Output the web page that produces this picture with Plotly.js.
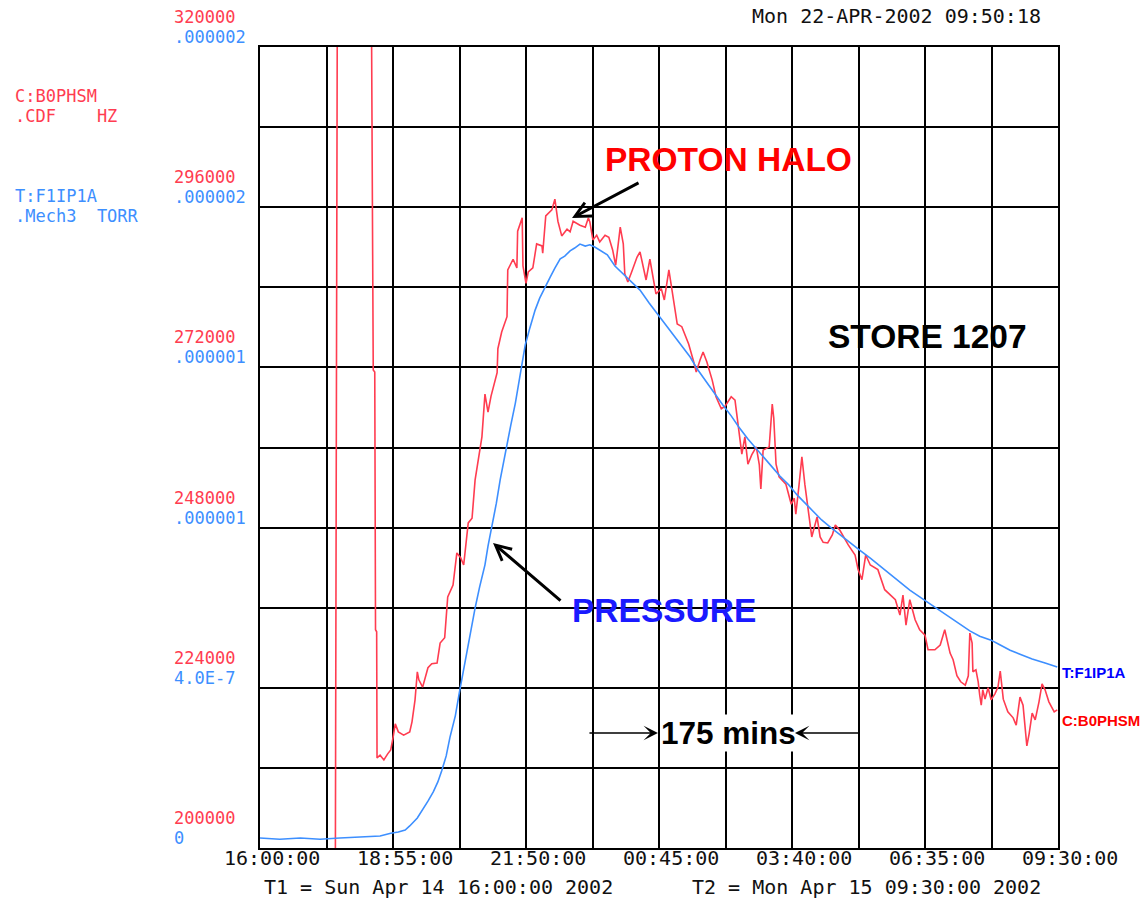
<!DOCTYPE html>
<html>
<head>
<meta charset="utf-8">
<script src="https://cdn.plot.ly/plotly-3.0.1.min.js"></script>
<style>
  html, body { margin: 0; padding: 0; background: #ffffff; }
  #chart { width: 1143px; height: 903px; }
</style>
</head>
<body>
<div id="chart"></div>
<script>
// ---- Data (time in minutes after T1 = Sun Apr 14 16:00:00 2002) ----
const redTime = [99,100,102,146,147,149,151,152,153.5,154,158,163,168,172,175,178,182,189,197,200,204,207,209,214,221,226,233,237,243,247,254,259,264,268,274,279,283,287,292,296,300,304,312,313,318,325,326,333,338,339,345,346,350,353,359,364,371,372,376,384,388,392,397,404,408,412,421,428,432,434,438,443,447,454,459,464,468,474,478,480,484,489,496,500,504,508,513,517,521,528,532,538,542,549,555,561,564,570,574,579,583,588,595,600,607,612,620,625,629,634,638,642,647,653,657,659,662,670,674,676,679,683,692,699,703,705,709,713,717,722,726,733,737,741,747,753,757,763,774,783,787,792,797,803,813,822,829,836,842,846,850,855,862,868,875,879,888,895,901,908,912,917,922,928,932,934,937,938,942,945,947,949,951,954,958,962,967,971,974,978,984,991,995,1000,1004,1009,1012,1016,1020,1022,1025,1029,1033,1038,1045,1049];
const redHz = [190000,257700,340000,340000,310000,271600,271300,232700,232400,213500,213900,213200,214100,214700,216500,218600,217400,216900,217400,218900,222200,226400,225200,224100,227000,227600,227700,230700,231500,237600,239400,244200,243500,242400,248700,249400,255100,257700,261600,268000,265300,267700,271200,274800,277300,279600,286600,288200,286900,292400,294400,287200,284600,286300,286900,290500,290200,289100,294700,295600,297200,293900,291700,292700,292300,293900,293300,293000,294400,293800,291100,291800,290800,291800,291500,289600,287300,293000,290500,286000,284800,286300,288500,289300,287000,285100,288200,285500,283000,283800,282100,286600,283600,278500,278100,276300,275500,273100,271300,273100,274300,272800,270100,267600,265800,266200,267600,267100,263500,259000,261600,257500,258900,260100,257400,253800,259600,260100,266500,264400,257500,255600,254500,251500,252400,250000,254100,258600,254400,250000,246600,249600,246600,245800,245700,246900,248400,247600,245400,243900,241700,240200,243900,242400,241700,238700,237900,237200,234900,237900,233400,237200,234200,232700,231900,229700,229700,230400,232700,229200,228200,225800,224900,224400,225800,232200,230700,226400,226700,224900,222900,221400,223700,222300,224000,222200,223100,224100,226500,222300,220400,219500,218400,222600,221400,215300,217100,220200,219200,220200,221900,224600,223700,221900,220400,220700];

const blueTime = [0,26,53,79,105,132,158,172,182,191,197,207,214,221,228,234,239,245,250,257,262,267,272,278,283,289,296,300,305,311,316,320,325,330,336,342,349,355,362,368,375,382,388,395,401,408,414,421,428,434,441,447,457,467,478,488,500,512,524,534,543,555,566,576,587,599,609,620,630,642,653,663,674,684,696,707,718,729,739,750,763,776,789,803,816,829,842,855,868,882,895,908,921,934,947,962,974,987,1000,1016,1033,1049];
const blueTorr = [2.5e-8,2.2e-8,2.5e-8,2.2e-8,2.5e-8,2.7e-8,3.0e-8,3.7e-8,4.0e-8,4.5e-8,5.5e-8,7.5e-8,9.5e-8,1.17e-7,1.40e-7,1.65e-7,1.92e-7,2.30e-7,2.77e-7,3.30e-7,3.85e-7,4.37e-7,4.92e-7,5.44e-7,5.99e-7,6.52e-7,7.07e-7,7.54e-7,8.02e-7,8.61e-7,9.19e-7,9.61e-7,1.004e-6,1.056e-6,1.111e-6,1.181e-6,1.256e-6,1.298e-6,1.343e-6,1.373e-6,1.401e-6,1.426e-6,1.448e-6,1.471e-6,1.478e-6,1.491e-6,1.498e-6,1.508e-6,1.503e-6,1.506e-6,1.500e-6,1.493e-6,1.481e-6,1.453e-6,1.433e-6,1.413e-6,1.393e-6,1.361e-6,1.331e-6,1.303e-6,1.283e-6,1.251e-6,1.226e-6,1.194e-6,1.164e-6,1.134e-6,1.106e-6,1.079e-6,1.051e-6,1.021e-6,9.96e-7,9.74e-7,9.51e-7,9.29e-7,9.06e-7,8.81e-7,8.59e-7,8.39e-7,8.19e-7,8.02e-7,7.82e-7,7.62e-7,7.44e-7,7.24e-7,7.04e-7,6.82e-7,6.62e-7,6.44e-7,6.27e-7,6.09e-7,5.92e-7,5.74e-7,5.59e-7,5.42e-7,5.29e-7,5.19e-7,5.07e-7,4.94e-7,4.84e-7,4.72e-7,4.62e-7,4.52e-7];

const xTickVals = [0,175,350,525,700,875,1050];
const xTickText = ['16:00:00','18:55:00','21:50:00','00:45:00','03:40:00','06:35:00','09:30:00'];
const redTickVals = [200000,224000,248000,272000,296000,320000];
const redTickText = ['200000','224000','248000','272000','296000','320000'];
const blueTickText = ['0','4.0E-7','.000001','.000001','.000002','.000002'];

// ---- Styling ----
const RED = '#ff3c50';
const BLUE = '#3d8fff';
const MONO = 'DejaVu Sans Mono, monospace';
const SANS = 'Liberation Sans, Arial, sans-serif';

// x grid every 87.5 min, y grid every 12000 Hz
const xGridVals = [];
for (let i = 0; i <= 12; i++) xGridVals.push(i * 87.5);
const yGridVals = [];
for (let i = 0; i <= 10; i++) yGridVals.push(200000 + i * 12000);

const traces = [
  { x: redTime, y: redHz, type: 'scatter', mode: 'lines', yaxis: 'y',
    line: { color: RED, width: 1.6 }, hoverinfo: 'skip', showlegend: false },
  { x: blueTime, y: blueTorr, type: 'scatter', mode: 'lines', yaxis: 'y2',
    line: { color: BLUE, width: 1.6 }, hoverinfo: 'skip', showlegend: false }
];

const ann = [];
const stackFont = 17;
// left axis labels (red HZ above, blue TORR below)
redTickVals.forEach((v, i) => {
  ann.push({ xref: 'paper', yref: 'y', x: -0.1103, y: v, xanchor: 'left', yanchor: 'middle',
    yshift: 30, text: redTickText[i], showarrow: false, font: { family: MONO, size: stackFont, color: RED } });
  ann.push({ xref: 'paper', yref: 'y', x: -0.1103, y: v, xanchor: 'left', yanchor: 'middle',
    yshift: 10, text: blueTickText[i], showarrow: false, font: { family: MONO, size: stackFont, color: BLUE } });
});
// x tick labels
xTickVals.forEach((v, i) => {
  ann.push({ xref: 'x', yref: 'paper', x: v, y: -0.0125, xanchor: 'center', yanchor: 'middle', xshift: 12,
    text: xTickText[i], showarrow: false, font: { family: MONO, size: 20, color: '#111111' } });
});
function txt(x, y, text, font, extra) {
  return Object.assign({ xref: 'paper', yref: 'paper', x: x, y: y, text: text, showarrow: false,
    xanchor: 'left', yanchor: 'middle', font: font }, extra || {});
}
const monoRedS = { family: MONO, size: stackFont, color: RED };
const monoBlueS = { family: MONO, size: stackFont, color: BLUE };
const monoBlack = { family: MONO, size: 20, color: '#111111' };
ann.push(txt(-0.3095, 0.9389, 'C:B0PHSM', monoRedS));
ann.push(txt(-0.3095, 0.9139, '.CDF\u00A0\u00A0\u00A0\u00A0HZ', monoRedS));
ann.push(txt(-0.3095, 0.8140, 'T:F1IP1A', monoBlueS));
ann.push(txt(-0.3095, 0.7890, '.Mech3\u00A0\u00A0TORR', monoBlueS));
ann.push(txt(0.798, 1.0387, 'Mon 22-APR-2002 09:50:18', monoBlack, { xanchor: 'center' }));
ann.push(txt(0.0025, -0.0487, 'T1 = Sun Apr 14 16:00:00 2002', monoBlack));
ann.push(txt(0.5388, -0.0487, 'T2 = Mon Apr 15 09:30:00 2002', monoBlack));

// callouts
ann.push(txt(0.5865, 0.859, '<b>PROTON HALO</b>', { family: SANS, size: 33.5, color: '#ff0000' }, { xanchor: 'center' }));
ann.push(txt(0.5063, 0.2971, '<b>PRESSURE</b>', { family: SANS, size: 33.5, color: '#1a1aff' }, { xanchor: 'center' }));
ann.push(txt(0.837, 0.638, '<b>STORE 1207</b>', { family: SANS, size: 33.5, color: '#000000' }, { xanchor: 'center' }));
ann.push(txt(0.5865, 0.1436, '<b>175 mins</b>', { family: SANS, size: 31.5, color: '#000000' },
  { xanchor: 'center', bgcolor: '#ffffff', borderpad: 0 }));
ann.push(txt(1.002, 0.2185, '<b>T:F1IP1A</b>', { family: SANS, size: 15, color: '#0000ff' }));
ann.push(txt(1.002, 0.1598, '<b>C:B0PHSM</b>', { family: SANS, size: 15, color: '#ff0000' }));

// arrows
function arrow(x, y, ax, ay, head, width, size) {
  return { xref: 'paper', yref: 'paper', x: x, y: y, ax: ax, ay: ay, text: '', showarrow: true,
    arrowhead: head, arrowwidth: width, arrowsize: size, arrowcolor: '#000000' };
}
ann.push(arrow(0.391, 0.7865, 68, -36, 5, 3, 1));
ann.push(arrow(0.292, 0.3808, 69, 59, 5, 3, 1));
ann.push(arrow(0.4987, 0.1436, -70, 0, 3, 1.5, 1.6));
ann.push(arrow(0.6704, 0.1436, 65, 0, 3, 1.5, 1.6));

const layout = {
  width: 1143, height: 903,
  margin: { l: 260, r: 85, t: 47, b: 55 },
  paper_bgcolor: '#ffffff', plot_bgcolor: '#ffffff',
  showlegend: false,
  xaxis: {
    range: [0, 1050], tickmode: 'array', tickvals: xGridVals, showticklabels: false,
    showgrid: true, gridcolor: '#000000', gridwidth: 2, zeroline: false,
    showline: true, linecolor: '#000000', linewidth: 2, mirror: true, ticks: '', fixedrange: true
  },
  yaxis: {
    range: [200000, 320000], tickmode: 'array', tickvals: yGridVals, showticklabels: false,
    showgrid: true, gridcolor: '#000000', gridwidth: 2, zeroline: false,
    showline: true, linecolor: '#000000', linewidth: 2, mirror: true, ticks: '', fixedrange: true
  },
  yaxis2: {
    range: [0, 2e-6], overlaying: 'y', side: 'left', showgrid: false, zeroline: false,
    showticklabels: false, showline: false, ticks: '', fixedrange: true
  },
  annotations: ann
};

Plotly.newPlot('chart', traces, layout, { displayModeBar: false, staticPlot: true });
</script>
</body>
</html>
